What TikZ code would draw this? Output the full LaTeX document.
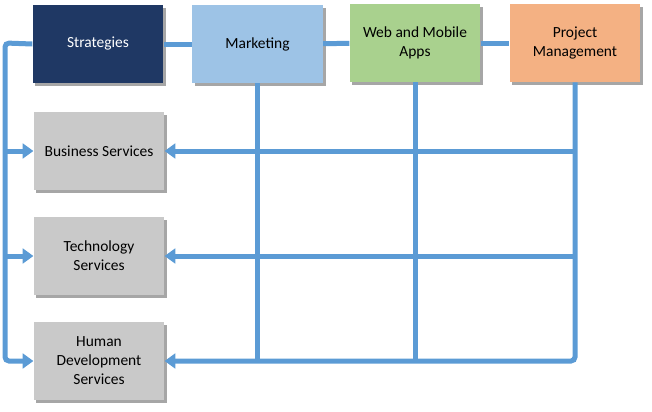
\documentclass[tikz,border=0pt]{standalone}
\usepackage{fontspec}
\setmainfont{Carlito}
\usepackage{tikz}
\usetikzlibrary{arrows.meta,positioning,shadows}

\definecolor{linkblue}{HTML}{5B9BD5}
\definecolor{navy}{HTML}{1F3864}
\definecolor{lightblue}{HTML}{9DC3E6}
\definecolor{lightgreen}{HTML}{A9D18E}
\definecolor{peach}{HTML}{F4B183}
\definecolor{boxgray}{HTML}{C9C9C9}

\begin{document}
\begin{tikzpicture}[
    x=0.75pt, y=-0.75pt,
    every node/.style={font=\fontsize{11.6}{14.25}\selectfont},
    box/.style={draw=none, minimum width=98pt, minimum height=58.5pt,
                align=center, inner sep=2pt,
                drop shadow={shadow xshift=2pt, shadow yshift=-2pt,
                             fill=black, opacity=0.35}},
    link/.style={draw=linkblue, line width=3.75pt},
    arrow/.style={link, -{Triangle[length=8pt, width=11pt]}},
  ]
  \useasboundingbox (0,0) rectangle (652,411);
  % top row
  \node[box, fill=navy, text=white] (strat) at (98,44) {Strategies};
  \node[box, fill=lightblue] (mkt) at (257.5,44) {Marketing};
  \node[box, fill=lightgreen] (web) at (415,43) {Web and Mobile\\Apps};
  \node[box, fill=peach] (pm) at (575,43) {Project\\Management};
  % left column
  \node[box, fill=boxgray] (bus) at (99,151) {Business Services};
  \node[box, fill=boxgray] (tech) at (99,256) {Technology\\Services};
  \node[box, fill=boxgray] (hum) at (99,361) {Human\\Development\\Services};
  % corner points
  \coordinate (lt) at (5,43);
  \coordinate (pmb) at (pm.south |- hum.east);
  \begin{scope}[on background layer/.try]
  \draw[link] (strat) -- (mkt);
  \draw[link] (mkt) -- (web);
  \draw[link] (web) -- (pm);
  \draw[link] (mkt.south) -- (mkt.south |- hum.east);
  \draw[link] (web.south) -- (web.south |- hum.east);
  \end{scope}
  \draw[arrow, rounded corners=3pt] (strat.west) -- (lt) |- (hum.west);
  \draw[arrow] (lt |- bus.west) -- (bus.west);
  \draw[arrow] (lt |- tech.west) -- (tech.west);
  \draw[arrow, rounded corners=3pt] (pm.south) -- (pmb) -- (hum.east);
  \draw[arrow] (pm.south |- bus.east) -- (bus.east);
  \draw[arrow] (pm.south |- tech.east) -- (tech.east);
\end{tikzpicture}
\end{document}
